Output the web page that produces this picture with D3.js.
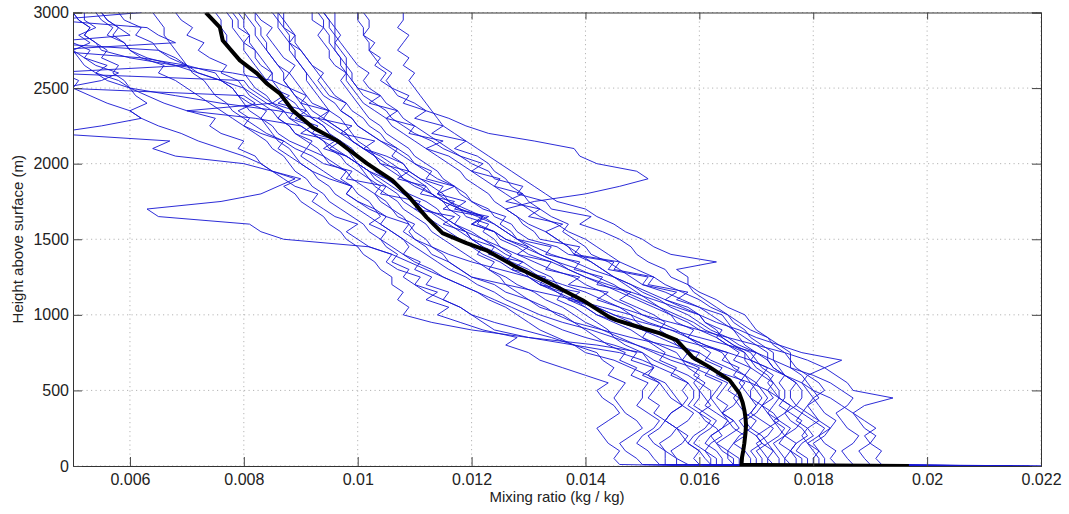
<!DOCTYPE html>
<html>
<head>
<meta charset="utf-8">
<script src="https://cdn.jsdelivr.net/npm/d3@7"></script>
<style>
  body { margin: 0; background: #fff; }
  text { font-family: "Liberation Sans", Arial, Helvetica, sans-serif; }
</style>
</head>
<body>
<svg id="chart" width="1069" height="514"></svg>
<script>
// sounding heights (m) shared by every profile
const heights = [0, 10,
  50, 100, 150, 200, 250, 300, 350, 400, 450, 500,
  550, 600, 650, 700, 750, 800, 850, 900, 950, 1000,
  1050, 1100, 1150, 1200, 1250, 1300, 1350, 1400, 1450, 1500,
  1550, 1600, 1650, 1700, 1750, 1800, 1850, 1900, 1950, 2000,
  2050, 2100, 2150, 2200, 2250, 2300, 2350, 2400, 2450, 2500,
  2550, 2600, 2650, 2700, 2750, 2800, 2850, 2900, 2950, 3000];

// mixing ratio of each sounding (g/kg), one value per height above
const profiles = [
  [16.0, 14.6, 14.5, 14.6, 14.4, 14.3, 14.2, 14.4, 14.6, 14.5, 14.3, 14.2, 14.4, 14.0, 13.6, 13.2, 13.0, 12.6, 12.8, 12.2, 11.8, 11.4, 11.6, 11.2, 11.4, 11.0, 11.1, 10.7, 10.5, 10.6, 10.2, 10.0, 9.8, 10.0, 9.6, 9.4, 9.2, 9.3, 8.9, 8.7, 8.5, 8.3, 8.2, 7.9, 8.0, 7.6, 7.4, 7.5, 7.0, 6.6, 6.3, 6.0, 5.8, 5.4, 5.6, 5.2, 5.3, 5.0, 4.8, 4.9, 4.7, 4.6],
  [17.5, 15.0, 14.9, 14.7, 14.6, 14.8, 15.0, 14.9, 14.7, 14.6, 14.5, 14.6, 14.7, 14.4, 14.5, 14.3, 14.2, 13.8, 13.4, 12.9, 12.4, 12.0, 11.8, 11.5, 11.2, 11.0, 10.8, 10.9, 10.6, 10.7, 10.5, 10.4, 10.5, 10.2, 10.4, 10.3, 10.2, 10.0, 9.9, 9.7, 9.8, 9.5, 9.4, 9.1, 9.2, 8.9, 8.8, 8.6, 8.7, 8.4, 8.2, 8.0, 7.9, 7.6, 7.7, 7.4, 7.2, 7.3, 7.0, 7.1, 6.9, 6.8],
  [18.0, 15.3, 15.2, 15.1, 14.9, 15.0, 15.2, 15.3, 15.1, 14.9, 15.0, 15.0, 15.1, 14.8, 14.9, 14.6, 14.7, 14.4, 14.2, 14.0, 13.8, 13.6, 13.2, 13.0, 12.6, 12.4, 12.0, 11.8, 11.6, 11.3, 11.2, 11.0, 10.8, 10.9, 10.5, 10.3, 10.0, 9.8, 9.9, 9.5, 9.2, 9.0, 8.8, 8.6, 8.7, 8.3, 8.0, 7.8, 7.6, 7.4, 7.2, 7.0, 6.8, 6.5, 6.6, 6.2, 6.0, 5.9, 5.6, 5.7, 5.5, 5.4],
  [17.2, 15.4, 15.4, 15.4, 15.2, 15.1, 15.3, 15.4, 15.2, 15.3, 15.1, 15.2, 15.3, 15.0, 15.2, 15.1, 15.0, 14.7, 14.5, 14.4, 14.2, 14.0, 13.8, 13.5, 13.6, 13.2, 13.0, 12.9, 12.6, 12.7, 12.5, 12.4, 12.2, 12.3, 11.9, 11.8, 11.6, 11.4, 11.5, 11.1, 10.9, 10.8, 10.6, 10.7, 10.4, 10.2, 10.0, 9.9, 9.7, 9.8, 9.5, 9.4, 9.3, 9.4, 9.2, 9.1, 9.0, 8.8, 8.9, 8.7, 8.6, 8.6],
  [18.5, 15.8, 15.6, 15.5, 15.7, 15.8, 15.6, 15.4, 15.5, 15.7, 15.6, 15.5, 15.4, 15.1, 15.2, 14.8, 14.9, 14.5, 14.0, 13.6, 13.3, 13.0, 12.7, 12.4, 12.1, 11.8, 11.5, 11.2, 10.9, 10.6, 10.2, 8.7, 8.3, 8.1, 6.5, 6.3, 7.6, 8.3, 8.6, 8.9, 8.5, 8.3, 8.0, 7.6, 7.2, 6.9, 6.5, 6.2, 6.0, 5.6, 5.3, 5.0, 5.1, 4.8, 4.9, 4.6, 4.7, 4.5, 4.4, 4.6, 4.3, 4.3],
  [19.0, 16.0, 15.9, 16.0, 15.8, 15.7, 15.6, 15.8, 15.9, 15.7, 15.8, 15.7, 15.8, 15.5, 15.6, 15.3, 15.4, 15.2, 15.0, 15.1, 14.9, 14.8, 14.6, 14.2, 14.4, 13.7, 13.9, 13.3, 13.4, 12.8, 13.0, 12.6, 12.4, 12.1, 12.2, 11.8, 11.5, 11.3, 11.1, 10.8, 10.7, 10.5, 10.3, 10.1, 9.9, 9.8, 9.6, 9.4, 9.5, 9.2, 9.1, 9.0, 8.9, 8.8, 8.9, 8.7, 8.6, 8.5, 8.4, 8.5, 8.3, 8.2],
  [20.0, 16.2, 16.1, 16.0, 15.8, 15.9, 16.1, 16.2, 16.0, 15.8, 15.9, 15.9, 15.8, 15.6, 15.3, 15.0, 14.6, 13.8, 13.0, 12.4, 12.2, 12.0, 11.8, 11.5, 11.6, 11.2, 11.3, 11.0, 11.1, 10.8, 10.9, 10.8, 10.6, 10.4, 10.5, 10.2, 10.0, 9.8, 9.9, 9.6, 9.4, 9.2, 9.0, 9.1, 8.8, 8.6, 8.5, 8.3, 8.4, 8.1, 7.9, 7.8, 7.6, 7.2, 7.0, 6.7, 6.5, 6.4, 6.1, 6.2, 5.9, 5.8],
  [18.8, 16.3, 16.3, 16.1, 16.2, 16.4, 16.3, 16.1, 16.0, 16.2, 16.1, 16.0, 16.1, 15.9, 16.0, 15.7, 15.8, 15.6, 15.5, 15.3, 15.4, 15.2, 14.9, 14.6, 14.8, 14.2, 14.3, 13.8, 13.9, 13.3, 13.4, 12.8, 12.7, 12.5, 12.6, 12.2, 12.0, 11.9, 11.7, 11.5, 11.4, 11.2, 11.0, 10.9, 10.7, 10.5, 10.4, 10.2, 10.1, 10.0, 9.9, 9.8, 9.7, 9.8, 9.6, 9.5, 9.5, 9.4, 9.3, 9.4, 9.2, 9.2],
  [21.0, 16.6, 16.5, 16.5, 16.3, 16.2, 16.4, 16.6, 16.4, 16.3, 16.2, 16.3, 16.4, 16.1, 16.2, 15.9, 16.0, 15.6, 15.3, 15.0, 14.8, 14.5, 14.2, 13.8, 13.5, 13.3, 13.0, 12.5, 12.0, 11.6, 11.3, 11.0, 10.9, 11.0, 10.7, 10.6, 10.5, 10.3, 10.4, 10.2, 10.1, 10.0, 9.8, 9.4, 9.6, 9.0, 9.2, 8.8, 8.9, 8.5, 8.7, 8.5, 8.4, 8.5, 8.3, 8.2, 8.2, 8.0, 8.1, 7.9, 7.9, 7.8],
  [19.5, 16.7, 16.7, 16.5, 16.6, 16.8, 16.6, 16.5, 16.4, 16.6, 16.7, 16.5, 16.6, 16.3, 16.4, 16.1, 16.2, 16.0, 15.8, 15.9, 15.6, 15.5, 15.3, 15.1, 14.9, 14.7, 14.5, 14.3, 14.1, 13.8, 13.7, 13.5, 13.3, 13.6, 13.0, 13.2, 12.6, 12.9, 12.4, 12.5, 12.0, 12.2, 11.8, 11.6, 11.4, 11.2, 11.0, 10.8, 10.7, 10.5, 10.4, 10.2, 10.1, 10.2, 10.0, 9.9, 9.8, 9.7, 9.6, 9.6, 9.5, 9.4],
  [20.5, 16.9, 16.9, 16.8, 16.6, 16.7, 16.9, 17.0, 16.8, 16.7, 16.6, 16.7, 16.8, 16.6, 16.7, 16.4, 16.5, 16.1, 15.8, 15.6, 15.3, 15.0, 14.6, 14.3, 14.0, 13.6, 13.2, 13.0, 12.7, 12.5, 12.2, 12.0, 11.9, 11.7, 11.5, 11.4, 11.2, 10.9, 10.7, 10.5, 10.2, 10.0, 9.9, 9.8, 9.6, 9.5, 9.4, 9.2, 9.1, 9.0, 8.9, 8.8, 8.7, 8.8, 8.6, 8.5, 8.4, 8.3, 8.2, 8.2, 8.1, 8.0],
  [19.0, 17.1, 17.1, 17.0, 17.2, 17.1, 16.9, 16.8, 17.0, 17.1, 16.9, 16.9, 17.0, 16.8, 16.9, 16.6, 16.7, 16.5, 16.3, 16.4, 16.1, 16.0, 15.8, 15.4, 15.6, 15.0, 15.1, 14.4, 14.5, 13.7, 13.5, 13.0, 12.8, 12.7, 12.4, 12.3, 12.0, 11.8, 11.7, 11.4, 11.2, 11.0, 10.8, 10.6, 10.4, 10.2, 10.0, 9.9, 9.7, 9.6, 9.4, 9.3, 9.2, 9.1, 9.0, 8.9, 8.8, 8.8, 8.7, 8.6, 8.6, 8.5],
  [21.5, 17.2, 17.2, 17.1, 17.0, 17.2, 17.3, 17.1, 16.9, 17.0, 17.1, 17.0, 16.9, 16.8, 16.5, 16.2, 16.0, 15.4, 14.8, 14.3, 13.8, 13.5, 13.3, 13.0, 12.8, 12.6, 12.5, 12.3, 12.4, 12.1, 12.2, 12.0, 11.9, 11.7, 11.8, 11.6, 11.5, 11.3, 11.2, 11.0, 10.8, 10.6, 10.4, 10.1, 9.9, 9.7, 9.5, 9.3, 8.6, 7.6, 6.8, 6.0, 5.6, 5.4, 5.2, 5.1, 5.0, 4.9, 5.0, 4.9, 4.8, 4.8],
  [20.0, 17.4, 17.4, 17.3, 17.2, 17.4, 17.5, 17.3, 17.2, 17.1, 17.3, 17.2, 17.3, 17.1, 17.2, 16.9, 17.0, 16.8, 16.7, 16.6, 16.5, 16.4, 16.0, 15.7, 15.4, 15.0, 14.8, 14.6, 14.4, 14.1, 14.0, 13.8, 13.6, 13.7, 13.4, 13.2, 13.0, 12.9, 12.7, 12.6, 12.4, 12.3, 12.1, 11.7, 11.9, 11.3, 11.5, 11.0, 11.2, 10.8, 10.9, 10.6, 10.5, 10.6, 10.4, 10.3, 10.2, 10.2, 10.1, 10.1, 10.0, 10.0],
  [22.0, 17.6, 17.5, 17.6, 17.7, 17.5, 17.4, 17.3, 17.5, 17.6, 17.4, 17.4, 17.3, 17.2, 17.0, 16.9, 16.8, 16.5, 16.3, 16.0, 15.8, 15.5, 15.2, 14.9, 14.6, 14.3, 14.0, 13.7, 13.4, 13.0, 12.8, 12.5, 12.4, 12.0, 12.3, 11.7, 11.9, 11.4, 11.7, 11.2, 11.3, 11.0, 10.9, 10.7, 10.5, 10.4, 10.2, 10.1, 9.9, 9.8, 9.6, 9.5, 9.4, 9.3, 9.2, 9.1, 9.0, 8.9, 8.9, 8.8, 8.7, 8.7],
  [19.8, 17.8, 17.8, 17.6, 17.7, 17.9, 17.8, 17.6, 17.5, 17.7, 17.6, 17.6, 17.7, 17.5, 17.4, 17.3, 17.3, 17.1, 16.9, 16.8, 16.6, 16.5, 16.3, 16.1, 15.9, 15.8, 15.8, 15.6, 16.3, 15.5, 15.2, 15.0, 14.7, 14.5, 14.2, 14.0, 13.5, 13.3, 13.1, 12.9, 12.7, 12.5, 12.3, 12.1, 11.9, 11.7, 11.5, 11.4, 11.3, 11.2, 11.1, 11.0, 10.9, 11.0, 10.8, 10.9, 10.7, 10.8, 10.9, 10.7, 10.8, 10.8],
  [21.0, 18.0, 18.0, 18.1, 17.9, 17.8, 17.9, 18.1, 17.9, 17.7, 17.8, 17.8, 17.7, 17.5, 17.3, 17.2, 17.0, 16.7, 16.5, 16.2, 16.0, 15.8, 15.5, 15.3, 15.0, 14.8, 14.5, 14.3, 14.1, 13.9, 13.7, 13.5, 13.3, 13.0, 12.8, 12.6, 13.1, 14.0, 14.6, 15.1, 14.9, 14.2, 13.9, 13.8, 13.1, 12.3, 11.9, 11.6, 11.2, 11.0, 10.7, 10.6, 10.4, 10.5, 10.3, 10.4, 10.2, 10.3, 10.1, 10.2, 10.2, 10.1],
  [20.5, 18.2, 18.2, 18.1, 18.0, 18.2, 18.3, 18.1, 18.0, 17.9, 18.1, 18.0, 17.9, 17.8, 17.6, 17.6, 17.5, 17.3, 17.2, 17.0, 16.9, 16.8, 16.5, 16.3, 16.0, 15.8, 15.5, 15.4, 15.1, 14.9, 14.8, 14.6, 14.3, 13.9, 14.1, 13.4, 13.3, 12.8, 12.9, 12.4, 12.3, 12.0, 11.8, 11.5, 11.3, 11.0, 10.8, 10.6, 10.5, 10.3, 10.1, 10.0, 9.9, 9.8, 9.8, 9.7, 9.6, 9.5, 9.5, 9.4, 9.4, 9.3],
  [21.5, 18.4, 18.3, 18.4, 18.2, 18.1, 18.3, 18.4, 18.2, 18.1, 18.0, 18.2, 18.1, 17.9, 18.2, 18.5, 17.8, 17.4, 17.0, 16.7, 16.3, 16.0, 15.6, 15.2, 14.8, 14.4, 14.0, 13.7, 13.5, 13.2, 13.0, 12.8, 12.6, 12.4, 12.1, 11.8, 11.5, 11.3, 11.0, 10.8, 10.6, 10.4, 10.3, 10.1, 9.9, 9.8, 9.6, 9.4, 9.2, 9.1, 8.9, 8.8, 8.5, 7.8, 6.8, 6.0, 5.5, 5.4, 5.2, 5.3, 5.1, 5.0],
  [20.0, 18.7, 18.6, 18.5, 18.7, 18.8, 18.6, 18.5, 18.4, 18.6, 18.7, 18.5, 18.3, 18.0, 17.6, 17.3, 17.0, 16.5, 16.0, 15.5, 15.0, 14.5, 14.2, 13.7, 13.9, 13.2, 13.3, 12.7, 12.9, 12.3, 12.4, 12.0, 11.8, 11.6, 11.4, 11.2, 11.0, 10.8, 10.7, 10.5, 10.3, 10.2, 10.0, 9.9, 9.7, 9.5, 9.4, 9.2, 9.0, 8.9, 8.7, 8.6, 8.5, 8.5, 8.4, 8.3, 8.2, 8.1, 8.1, 8.0, 8.0, 7.9],
  [22.0, 19.0, 18.9, 18.8, 19.0, 19.1, 18.9, 18.8, 18.7, 18.9, 19.4, 18.7, 18.6, 18.4, 18.2, 17.9, 17.5, 17.0, 16.5, 16.0, 15.5, 15.0, 14.8, 14.5, 14.3, 14.0, 13.8, 13.4, 13.1, 12.8, 12.5, 12.2, 12.0, 11.7, 11.5, 11.2, 11.0, 10.8, 10.6, 10.4, 10.2, 10.0, 9.8, 9.6, 9.4, 9.2, 9.0, 8.8, 8.7, 8.5, 8.4, 8.2, 8.1, 8.0, 8.0, 7.9, 7.8, 7.7, 7.7, 7.6, 7.6, 7.5],
  [21.0, 19.2, 19.1, 19.2, 19.0, 18.9, 19.1, 18.9, 18.7, 18.5, 18.3, 18.0, 17.8, 17.5, 17.2, 16.9, 16.5, 16.0, 15.5, 15.0, 14.6, 14.2, 14.0, 13.7, 13.5, 13.2, 13.0, 12.7, 12.5, 12.2, 12.0, 11.8, 11.6, 11.4, 11.2, 11.0, 10.8, 10.7, 10.5, 10.3, 10.2, 10.0, 9.8, 9.5, 9.7, 9.2, 9.3, 8.9, 9.1, 8.6, 8.8, 8.5, 8.4, 8.3, 8.2, 8.1, 8.0, 8.0, 7.9, 7.8, 7.8, 7.7],
  [18.2, 16.4, 16.4, 16.3, 16.1, 16.2, 16.4, 16.5, 16.3, 16.1, 16.2, 16.2, 16.0, 15.8, 15.5, 15.2, 15.0, 14.2, 13.0, 12.0, 11.3, 10.8, 10.9, 10.7, 10.8, 10.6, 10.6, 10.4, 10.3, 10.1, 10.0, 9.8, 9.7, 9.5, 9.4, 9.2, 9.0, 8.9, 8.7, 9.0, 8.5, 8.0, 6.8, 6.4, 6.7, 4.6, 5.5, 6.2, 6.0, 6.3, 6.1, 6.0, 5.9, 5.7, 5.8, 5.5, 5.6, 5.4, 5.2, 5.3, 5.1, 5.0],
  [19.5, 17.3, 17.2, 17.3, 17.1, 17.0, 17.2, 17.4, 17.3, 17.1, 17.2, 17.1, 17.0, 17.1, 16.9, 16.8, 16.8, 16.6, 16.4, 16.3, 16.1, 16.0, 15.7, 15.4, 15.1, 14.8, 14.5, 14.1, 13.8, 13.4, 13.1, 12.8, 12.6, 12.4, 12.2, 11.9, 11.6, 11.5, 11.3, 11.1, 10.9, 10.8, 10.5, 10.1, 10.3, 9.7, 9.9, 9.3, 9.5, 9.0, 9.1, 8.8, 8.7, 8.7, 8.6, 8.5, 8.4, 8.4, 8.3, 8.3, 8.2, 8.2],
  [17.8, 15.6, 15.6, 15.4, 15.3, 15.5, 15.6, 15.4, 15.5, 15.7, 15.5, 15.4, 15.3, 15.1, 14.8, 14.5, 14.0, 13.8, 13.5, 13.2, 13.0, 12.8, 12.6, 12.3, 12.1, 11.8, 11.5, 11.3, 11.0, 10.8, 10.6, 10.4, 10.2, 10.1, 9.9, 9.7, 9.5, 9.4, 9.2, 9.1, 8.9, 8.8, 8.7, 8.5, 8.4, 8.2, 8.0, 8.1, 7.9, 8.2, 8.0, 4.8, 5.5, 5.8, 5.4, 5.2, 5.0, 5.3, 5.1, 5.4, 5.2, 5.2],
  [20.8, 17.7, 17.7, 17.6, 17.4, 17.5, 17.7, 17.8, 17.6, 17.4, 17.5, 17.5, 17.4, 17.5, 17.3, 17.2, 17.2, 17.0, 16.8, 16.6, 16.4, 16.2, 16.0, 15.6, 15.8, 15.1, 15.2, 14.5, 14.6, 13.8, 13.9, 13.2, 13.1, 12.9, 12.8, 12.6, 12.4, 12.3, 12.1, 11.9, 11.8, 11.6, 11.4, 11.2, 11.0, 10.8, 10.6, 10.5, 10.3, 10.1, 10.0, 9.9, 9.8, 9.8, 9.7, 9.7, 9.6, 9.6, 9.7, 9.6, 9.6, 9.6],
  [19.2, 17.0, 17.0, 16.9, 17.1, 17.0, 16.8, 16.7, 16.9, 17.0, 16.9, 16.8, 16.7, 16.8, 16.6, 16.5, 16.4, 16.1, 15.8, 15.5, 15.1, 14.8, 14.3, 13.8, 13.2, 12.6, 12.0, 11.8, 11.6, 11.5, 11.3, 11.2, 11.0, 10.9, 10.8, 10.6, 10.4, 10.3, 10.1, 9.9, 9.8, 9.6, 9.4, 9.3, 9.1, 8.9, 8.8, 8.6, 8.5, 8.3, 8.1, 8.0, 7.6, 7.2, 6.8, 6.3, 6.0, 5.9, 5.7, 5.8, 5.6, 5.5],
  [21.8, 18.1, 18.1, 18.0, 17.9, 18.1, 18.2, 18.0, 17.8, 17.9, 18.0, 17.9, 17.8, 17.9, 17.7, 17.6, 17.6, 17.4, 17.2, 16.9, 16.7, 16.5, 16.2, 16.0, 15.7, 15.4, 15.2, 14.9, 14.6, 14.4, 14.2, 14.0, 13.7, 13.5, 13.2, 13.0, 12.8, 12.6, 12.4, 12.2, 12.0, 11.8, 11.6, 11.2, 11.5, 10.9, 11.0, 10.5, 10.7, 10.2, 10.4, 10.0, 9.9, 9.9, 9.8, 9.8, 9.7, 9.6, 9.6, 9.5, 9.5, 9.4],
  [18.6, 16.2, 16.2, 16.1, 15.9, 16.0, 16.2, 16.3, 16.1, 15.9, 16.0, 16.0, 15.9, 16.0, 15.8, 15.7, 15.6, 15.3, 15.0, 14.8, 14.5, 14.2, 14.0, 13.8, 13.7, 13.5, 13.4, 13.1, 12.9, 12.6, 12.4, 12.2, 11.9, 11.5, 11.7, 11.0, 11.1, 10.4, 10.5, 9.8, 9.9, 9.4, 9.2, 8.9, 8.7, 8.4, 8.2, 8.0, 7.8, 7.7, 7.5, 7.4, 7.3, 7.1, 7.0, 6.9, 6.8, 6.7, 6.6, 6.6, 6.5, 6.4],
  [20.2, 17.5, 17.5, 17.4, 17.3, 17.5, 17.6, 17.4, 17.2, 17.3, 17.4, 17.3, 17.2, 17.3, 17.1, 17.0, 16.9, 16.6, 16.4, 16.1, 15.9, 15.6, 15.3, 15.0, 14.7, 14.5, 14.2, 13.9, 13.5, 13.2, 12.9, 12.6, 12.4, 12.0, 12.2, 11.5, 11.7, 11.1, 11.2, 10.7, 10.9, 10.4, 10.3, 10.2, 10.0, 9.9, 9.8, 9.7, 9.5, 9.4, 9.3, 9.2, 9.1, 9.1, 9.0, 8.9, 8.9, 8.8, 8.8, 8.7, 8.7, 8.6],
  [18.4, 16.6, 16.6, 16.4, 16.3, 16.5, 16.7, 16.6, 16.4, 16.5, 16.3, 16.4, 16.5, 16.2, 15.9, 15.5, 15.2, 14.9, 14.6, 14.3, 14.0, 13.8, 13.6, 13.3, 13.1, 12.8, 12.6, 12.3, 12.1, 11.9, 11.7, 11.5, 11.3, 11.2, 11.0, 10.8, 10.7, 10.5, 10.3, 10.2, 10.0, 9.8, 9.7, 9.5, 9.4, 9.2, 9.0, 8.2, 7.0, 8.5, 8.3, 8.1, 8.0, 4.5, 7.0, 6.8, 6.5, 4.4, 6.0, 5.8, 5.6, 5.5],
  [19.0, 17.9, 17.9, 17.7, 17.8, 18.0, 17.9, 17.7, 17.8, 17.6, 17.4, 17.2, 16.9, 16.5, 16.1, 15.7, 15.3, 14.9, 14.5, 14.1, 13.6, 13.2, 12.9, 12.6, 12.4, 12.1, 11.9, 11.6, 11.4, 11.2, 11.0, 10.8, 10.6, 10.4, 10.2, 10.0, 9.8, 9.6, 9.5, 9.3, 9.2, 9.0, 8.9, 8.8, 8.6, 8.5, 8.4, 8.3, 8.1, 8.0, 7.9, 7.8, 7.6, 7.5, 7.0, 6.2, 4.5, 6.8, 6.5, 6.3, 4.6, 6.2]
];

// mean profile (thick black line)
const meanHeights = [0, 7, 59, 100, 150, 218, 270, 320, 370, 420, 482, 568, 654, 720, 833, 879, 918, 965, 985, 1097, 1209, 1315, 1427, 1474, 1540, 1645, 1777, 1890, 2002, 2088, 2154, 2240, 2352, 2465, 2531, 2597, 2683, 2815, 2901, 2993, 3000];
const meanRatio = [19.68, 16.74, 16.75, 16.77, 16.79, 16.81, 16.82, 16.81, 16.79, 16.76, 16.70, 16.53, 16.18, 15.88, 15.60, 15.30, 14.95, 14.54, 14.42, 13.95, 13.37, 12.79, 12.26, 11.91, 11.49, 11.21, 10.91, 10.61, 10.16, 9.86, 9.63, 9.21, 8.86, 8.63, 8.40, 8.23, 7.93, 7.63, 7.58, 7.35, 7.33];

const xTicks = [0.006, 0.008, 0.01, 0.012, 0.014, 0.016, 0.018, 0.02, 0.022];
const yTicks = [0, 500, 1000, 1500, 2000, 2500, 3000];

let svg = d3.select('#chart');
let margin = {top: 12.5, right: 28, bottom: 48, left: 73};
let width = 1069 - margin.left - margin.right;
let height = 514 - margin.top - margin.bottom;

let x = d3.scaleLinear().domain([0.005, 0.022]).range([0, width]);
let y = d3.scaleLinear().domain([0, 3000]).range([height, 0]);

let g = svg.append('g').attr('transform', `translate(${margin.left},${margin.top})`);

g.append('clipPath').attr('id', 'plotclip')
  .append('rect').attr('width', width).attr('height', height);

// dotted grid
g.append('g').selectAll('line')
  .data(xTicks)
  .enter()
  .append('line')
  .attr('x1', d => x(d)).attr('x2', d => x(d))
  .attr('y1', 0).attr('y2', height)
  .attr('stroke', '#b5b5b5').attr('stroke-dasharray', '1.2,3.3');
g.append('g').selectAll('line')
  .data(yTicks)
  .enter()
  .append('line')
  .attr('x1', 0).attr('x2', width)
  .attr('y1', d => y(d)).attr('y2', d => y(d))
  .attr('stroke', '#b5b5b5').attr('stroke-dasharray', '1.2,3.3');

let line = d3.line()
  .x(d => x(d[1] / 1000))
  .y(d => y(d[0]));

let plot = g.append('g').attr('clip-path', 'url(#plotclip)');

plot.selectAll('path.sonde')
  .data(profiles)
  .enter()
  .append('path')
  .attr('class', 'sonde')
  .attr('d', p => line(heights.map((h, i) => [h, p[i]])))
  .attr('fill', 'none')
  .attr('stroke', '#1414d2')
  .attr('stroke-width', 0.9);

plot.append('path')
  .attr('d', line(meanHeights.map((h, i) => [h, meanRatio[i]])))
  .attr('fill', 'none')
  .attr('stroke', '#000')
  .attr('stroke-width', 4)
  .attr('stroke-linejoin', 'round');

// axes, matlab style: inward ticks on all four sides
let fmt = d => String(d);
let xAxis = g.append('g').attr('transform', `translate(0,${height})`)
  .call(d3.axisBottom(x).tickValues(xTicks).tickSize(-9).tickPadding(8).tickFormat(fmt));
let xTop = g.append('g')
  .call(d3.axisTop(x).tickValues(xTicks).tickSize(-7).tickFormat(''));
let yAxis = g.append('g')
  .call(d3.axisLeft(y).tickValues(yTicks).tickSize(-9).tickPadding(4).tickFormat(fmt));
let yRight = g.append('g').attr('transform', `translate(${width},0)`)
  .call(d3.axisRight(y).tickValues(yTicks).tickSize(-9).tickFormat(''));

[xAxis, xTop, yAxis, yRight].forEach(a => {
  a.select('.domain').attr('stroke', '#333');
  a.selectAll('.tick line').attr('stroke', '#444');
  a.selectAll('text')
    .attr('font-size', 16)
    .attr('fill', '#222')
    .attr('font-family', '"Liberation Sans", Arial, sans-serif');
});

svg.append('text')
  .attr('x', margin.left + width / 2)
  .attr('y', 502)
  .attr('text-anchor', 'middle')
  .attr('font-size', 15)
  .attr('fill', '#222')
  .text('Mixing ratio (kg / kg)');

svg.append('text')
  .attr('transform', `translate(23,${margin.top + height / 2}) rotate(-90)`)
  .attr('text-anchor', 'middle')
  .attr('font-size', 15)
  .attr('fill', '#222')
  .text('Height above surface (m)');
</script>
</body>
</html>
